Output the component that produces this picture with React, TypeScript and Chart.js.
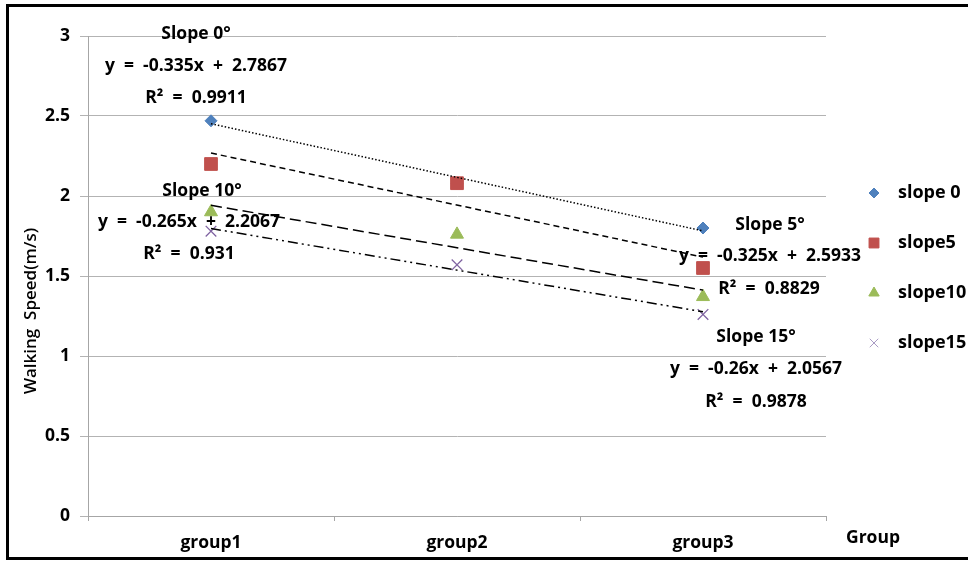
import React, { useEffect, useRef } from "react";
import { Chart, registerables } from "chart.js";
import { drawPoint } from "chart.js/helpers";

Chart.register(...registerables);

const GROUPS = ["group1", "group2", "group3"];
const SERIES_NAMES = ["slope 0", "slope5", "slope10", "slope15"];
const SLOPE0 = [2.47, 2.08, 1.8];
const SLOPE5 = [2.2, 2.08, 1.55];
const SLOPE10 = [1.9, 1.76, 1.37];
const SLOPE15 = [1.78, 1.57, 1.26];
const TREND_M = [-0.335, -0.325, -0.265, -0.26];
const TREND_B = [2.7867, 2.5933, 2.2067, 2.0567];
const Y_TICKS = [0, 0.5, 1, 1.5, 2, 2.5, 3];

const COLORS = ["#4F81BD", "#C0504D", "#9BBB59", "#8064A2"];
const STYLES = ["rectRot", "rect", "triangle", "crossRot"];
const RADII = [6, 9, 7.5, 7.5];
const LEGEND_RADII = [5, 7, 6, 6];
const DASHES = [[1.5, 2], [6, 4], [11, 5], [10, 4, 2, 4, 2, 4]];

const FONT = "'Open Sans', 'Noto Sans', sans-serif";

const ANNOTATIONS = [
  { text: "Slope 0\u00B0", x: 196, y: 34 },
  { text: "y  =  -0.335x  +  2.7867", x: 196, y: 66 },
  { text: "R\u00B2  =  0.9911", x: 196, y: 98 },
  { text: "Slope 10\u00B0", x: 202, y: 191 },
  { text: "y  =  -0.265x  +  2.2067", x: 189, y: 222 },
  { text: "R\u00B2  =  0.931", x: 189, y: 254 },
  { text: "Slope 5\u00B0", x: 770, y: 225 },
  { text: "y  =  -0.325x  +  2.5933", x: 770, y: 256 },
  { text: "R\u00B2  =  0.8829", x: 769, y: 289 },
  { text: "Slope 15\u00B0", x: 756, y: 337 },
  { text: "y  =  -0.26x  +  2.0567", x: 756, y: 369 },
  { text: "R\u00B2  =  0.9878", x: 756, y: 402 },
];

const LEGEND_POS = { markerX: 874, textX: 898, y0: 193, dy: 50 };

const overlayPlugin = {
  id: "overlay",
  beforeDraw(chart: any) {
    const ctx = chart.ctx;
    ctx.save();
    ctx.fillStyle = "#fff";
    ctx.fillRect(0, 0, chart.width, chart.height);
    ctx.strokeStyle = "#000";
    ctx.lineWidth = 3;
    ctx.beginPath();
    ctx.moveTo(chart.width + 5, 5.5);
    ctx.lineTo(7.5, 5.5);
    ctx.lineTo(7.5, 558.5);
    ctx.lineTo(chart.width + 5, 558.5);
    ctx.stroke();
    ctx.restore();
  },
  afterDatasetsDraw(chart: any) {
    const ctx = chart.ctx;
    ctx.save();
    ctx.fillStyle = "#000";
    ctx.textAlign = "center";
    ctx.textBaseline = "middle";
    ctx.font = `bold 17.5px ${FONT}`;
    ANNOTATIONS.forEach((a) => ctx.fillText(a.text, a.x, a.y));

    // x title
    ctx.fillText("Group", 873, 538);

    // y title
    ctx.save();
    ctx.translate(31, 311);
    ctx.rotate(-Math.PI / 2);
    ctx.font = `600 17px ${FONT}`;
    ctx.fillText("Walking  Speed(m/s)", 0, 0);
    ctx.restore();

    // legend
    SERIES_NAMES.forEach((name, i) => {
      const y = LEGEND_POS.y0 + i * LEGEND_POS.dy;
      ctx.fillStyle = COLORS[i];
      ctx.strokeStyle = i === 3 ? "#A99BC4" : COLORS[i];
      ctx.lineWidth = 1;
      drawPoint(ctx, { pointStyle: STYLES[i], rotation: 0, radius: LEGEND_RADII[i], borderWidth: 1 } as any, LEGEND_POS.markerX, y);
      ctx.fillStyle = "#000";
      ctx.textAlign = "left";
      ctx.font = `bold 18px ${FONT}`;
      ctx.fillText(name, LEGEND_POS.textX, y);
    });
    ctx.restore();
  },
};

export default function App() {
  const ref = useRef<HTMLCanvasElement>(null);
  useEffect(() => {
    document.body.style.margin = "0";
    const series = [SLOPE0, SLOPE5, SLOPE10, SLOPE15];
    const pointSets = series.map((d, i) => ({
      label: SERIES_NAMES[i],
      data: d,
      showLine: false,
      pointStyle: STYLES[i],
      pointRadius: RADII[i],
      pointHoverRadius: RADII[i],
      backgroundColor: COLORS[i],
      borderColor: COLORS[i],
      pointBorderWidth: i === 3 ? 1.3 : 1,
      order: 10 - i,
    }));
    const trendSets = TREND_M.map((m, i) => ({
      label: "trend" + i,
      data: [m * 1 + TREND_B[i], null, m * 3 + TREND_B[i]],
      spanGaps: true,
      pointRadius: 0,
      borderColor: "#000",
      borderWidth: 1.5,
      borderDash: DASHES[i],
      fill: false,
      order: 1,
    }));
    const chart = new Chart(ref.current!, {
      type: "line",
      data: { labels: GROUPS, datasets: [...pointSets, ...trendSets] as any },
      options: {
        animation: false,
        responsive: false,
        layout: { padding: { left: 0, top: 36, right: 142, bottom: 0 } },
        plugins: { legend: { display: false }, tooltip: { enabled: false } },
        scales: {
          x: {
            type: "category",
            offset: true,
            grid: { display: true, drawOnChartArea: false, drawTicks: true, tickLength: 5, offset: true, color: "#a6a6a6" },
            border: { display: true, color: "#a6a6a6" },
            ticks: { color: "#000", font: { family: FONT, size: 17.5, weight: "bold" }, padding: 12 },
            afterFit: (s: any) => { s.height = 45; },
          },
          y: {
            min: 0,
            max: 3,
            afterBuildTicks: (s: any) => { s.ticks = Y_TICKS.map((v) => ({ value: v })); },
            ticks: { color: "#000", font: { family: FONT, size: 17.5, weight: "bold" }, padding: 10, callback: (v: any) => String(v) },
            grid: { color: "#b3b3b3", tickLength: 8 },
            border: { display: true, color: "#a6a6a6" },
            afterFit: (s: any) => { s.width = 88; },
          },
        },
      },
      plugins: [overlayPlugin],
    });
    return () => chart.destroy();
  }, []);
  return (
    <div style={{ width: 968, height: 561 }}>
      <canvas ref={ref} width={968} height={561} style={{ display: "block" }} />
    </div>
  );
}
